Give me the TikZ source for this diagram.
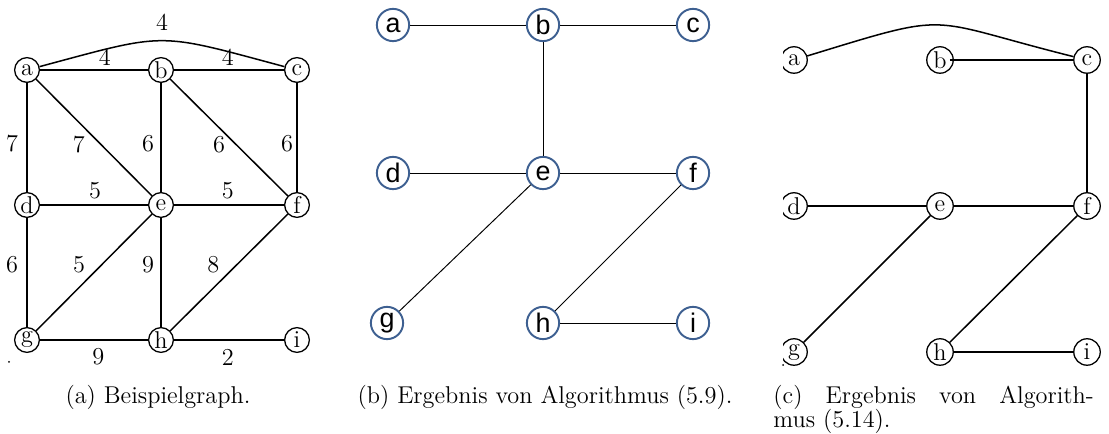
\documentclass[tikz,border=0pt]{standalone}
\usepackage{fontspec}
\newfontfamily\helv{Liberation Sans}
\definecolor{nodeblue}{RGB}{62,96,145}

\begin{document}
\begin{tikzpicture}[x=0.465pt,y=-0.465pt,font=\fontsize{11.3}{11.2}\selectfont,
  vtx/.style={circle,draw,line width=0.6pt,inner sep=0pt,minimum size=11.5pt},
  vtxc/.style={vtx,minimum size=12.3pt},
  vtxb/.style={circle,draw=nodeblue,line width=0.9pt,inner sep=0pt,minimum size=15pt,font=\helv\fontsize{12.5}{14}\selectfont},
  edg/.style={line width=0.7pt},
  thinedg/.style={line width=0.45pt},
  lbl/.style={inner sep=0pt}]
\useasboundingbox (0,0) rectangle (1109,434);
% (a) Beispielgraph
\node[vtx] (Aa) at (27,70) {a};
\node[vtx] (Ab) at (161,70) {b};
\node[vtx] (Ac) at (297,70) {c};
\node[vtx] (Ad) at (27,205) {d};
\node[vtx] (Ae) at (161,205) {e};
\node[vtx] (Af) at (297,205) {f};
\node[vtx] (Ag) at (27,340) {g};
\node[vtx] (Ah) at (161,340) {h};
\node[vtx] (Ai) at (297,340) {i};
\draw[edg] (Aa) to[out=15,in=165,looseness=1.4] node[lbl,pos=0.5,shift={(0,-18)}] {4} (Ac);
\draw[edg] (Aa)--node[lbl,pos=0.6,shift={(0,-13)}] {4} (Ab);
\draw[edg] (Ab)--node[lbl,pos=0.49,shift={(0,-13)}] {4} (Ac);
\draw[edg] (Aa)--node[lbl,pos=0.56,shift={(-15,0)}] {7} (Ad);
\draw[edg] (Aa)--node[lbl,pos=0.56,shift={(-22,0)}] {7} (Ae);
\draw[edg] (Ab)--node[lbl,pos=0.56,shift={(-13,0)}] {6} (Ae);
\draw[edg] (Ab)--node[lbl,pos=0.56,shift={(-17,0)}] {6} (Af);
\draw[edg] (Ac)--node[lbl,pos=0.56,shift={(-10,0)}] {6} (Af);
\draw[edg] (Ad)--node[lbl,pos=0.51,shift={(0,-14)}] {5} (Ae);
\draw[edg] (Ae)--node[lbl,pos=0.49,shift={(0,-14)}] {5} (Af);
\draw[edg] (Ad)--node[lbl,pos=0.43,shift={(-15,0)}] {6} (Ag);
\draw[edg] (Ag)--node[lbl,pos=0.57,shift={(-23,0)}] {5} (Ae);
\draw[edg] (Ae)--node[lbl,pos=0.43,shift={(-13,0)}] {9} (Ah);
\draw[edg] (Ah)--node[lbl,pos=0.57,shift={(-24,0)}] {8} (Af);
\draw[edg] (Ag)--node[lbl,pos=0.54,shift={(0,17)}] {9} (Ah);
\draw[edg] (Ah)--node[lbl,pos=0.49,shift={(0,17)}] {2} (Ai);
\fill (9,362) circle (1);
% (b) Ergebnis von Algorithmus (5.9)
\node[vtxb] (Ba) at (393,25) {a};
\node[vtxb] (Bb) at (543,25) {b};
\node[vtxb] (Bc) at (693,25) {c};
\node[vtxb] (Bd) at (393,173) {d};
\node[vtxb] (Be) at (543,173) {e};
\node[vtxb] (Bf) at (693,173) {f};
\node[vtxb] (Bg) at (387,323) {g};
\node[vtxb] (Bh) at (543,323) {h};
\node[vtxb] (Bi) at (693,323) {i};
\draw[thinedg] (Ba)--(Bb); \draw[thinedg] (Bb)--(Bc);
\draw[thinedg] (Bb)--(Be);
\draw[thinedg] (Bd)--(Be); \draw[thinedg] (Be)--(Bf);
\draw[thinedg] (Be)--(Bg); \draw[thinedg] (Bf)--(Bh);
\draw[thinedg] (Bh)--(Bi);
% (c) Ergebnis von Algorithmus (5.14)
\begin{scope}
\clip (783,0) rectangle (1109,434);
\node[vtxc] (Ca) at (794,60) {a};
\node[vtxc] (Cb) at (940,60) {b};
\node[vtxc] (Cc) at (1087,60) {c};
\node[vtxc] (Cd) at (794,206) {d};
\node[vtxc] (Ce) at (940,206) {e};
\node[vtxc] (Cf) at (1087,206) {f};
\node[vtxc] (Cg) at (794,352) {g};
\node[vtxc] (Ch) at (940,352) {h};
\node[vtxc] (Ci) at (1087,352) {i};
\draw[edg] (Ca) to[out=17,in=166,looseness=1.5] (Cc);
\draw[edg] ([xshift=4.6pt]Cb.center)--(Cc);
\draw[edg] (Cc)--(Cf);
\draw[edg] (Cd)--(Ce); \draw[edg] (Ce)--(Cf);
\draw[edg] (Ce)--(Cg); \draw[edg] (Cf)--(Ch);
\draw[edg] (Ch)--(Ci);
\end{scope}
\fill (783,365) circle (1);
% captions
\node[anchor=base,inner sep=0pt] (capa) at (158,403) {(a) Beispielgraph.};
\node[anchor=base,inner sep=0pt] (capb) at (545,403) {(b) Ergebnis von Algorithmus (5.9).};
\node[anchor=base west,inner sep=0pt] (capc) at (773,403) {\makebox[149pt][s]{(c) Ergebnis von Algorith-}};
\node[anchor=base west,inner sep=0pt] (capc2) at (773,427) {mus (5.14).};
\end{tikzpicture}
\end{document}
